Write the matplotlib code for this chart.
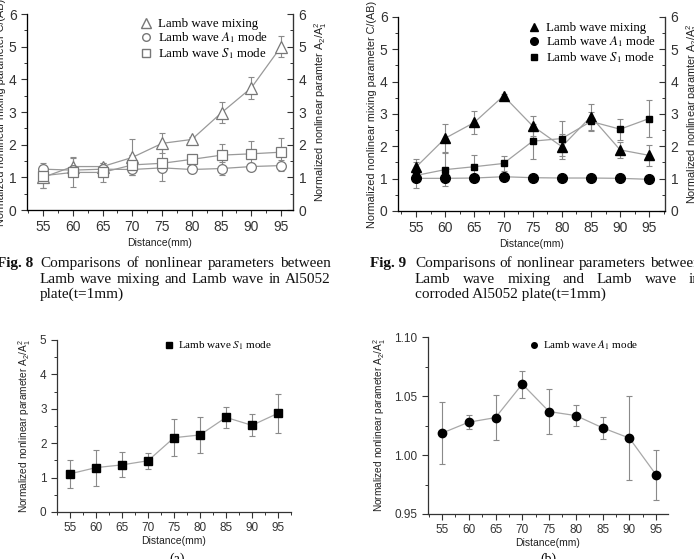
import matplotlib
matplotlib.use('Agg')
import matplotlib.pyplot as plt
from matplotlib.lines import Line2D
from matplotlib.ticker import MultipleLocator

# data
distance = [55, 60, 65, 70, 75, 80, 85, 90, 95]

# Fig. 8 (intact plate)
mix8 = [1.0, 1.33, 1.33, 1.61, 2.04, 2.16, 2.98, 3.74, 5.0]
mix8_err = [0.32, 0.25, 0.1, 0.55, 0.31, 0.06, 0.33, 0.33, 0.33]
a1_8 = [1.25, 1.22, 1.25, 1.24, 1.29, 1.24, 1.27, 1.33, 1.36]
a1_8_err = [0.05, 0.05, 0.05, 0.05, 0.1, 0.03, 0.2, 0.1, 0.18]
s1_8 = [1.05, 1.15, 1.15, 1.38, 1.43, 1.55, 1.68, 1.72, 1.77]
s1_8_err = [0.38, 0.46, 0.28, 0.3, 0.53, 0.05, 0.34, 0.4, 0.42]

# Fig. 9 (corroded plate)
mix9 = [1.36, 2.25, 2.74, 3.56, 2.63, 1.99, 2.92, 1.89, 1.72]
mix9_err = [0.25, 0.43, 0.36, 0.05, 0.3, 0.38, 0.4, 0.24, 0.33]
a1_9 = [1.01, 1.01, 1.02, 1.06, 1.03, 1.02, 1.02, 1.01, 0.98]
a1_9_err = [0.03, 0.03, 0.03, 0.03, 0.03, 0.03, 0.03, 0.03, 0.03]
s1_9 = [1.10, 1.28, 1.37, 1.47, 2.16, 2.24, 2.77, 2.53, 2.86]
s1_9_err = [0.4, 0.52, 0.36, 0.23, 0.54, 0.53, 0.3, 0.32, 0.56]

# (a) S1 mode, (b) A1 mode
s1_a = [1.11, 1.29, 1.37, 1.49, 2.16, 2.24, 2.75, 2.52, 2.87]
s1_a_err = [0.4, 0.52, 0.36, 0.23, 0.54, 0.53, 0.31, 0.32, 0.56]
a1_b = [1.0185, 1.0278, 1.0317, 1.0601, 1.0368, 1.0334, 1.023, 1.0143, 0.9831]
a1_b_err = [0.0265, 0.006, 0.019, 0.0114, 0.019, 0.0086, 0.0093, 0.0354, 0.0215]

W, H = 694, 559
plt.rcParams['font.family'] = ['Liberation Sans', 'DejaVu Sans']
plt.rcParams['mathtext.fontset'] = 'stix'

fig = plt.figure(figsize=(W / 100, H / 100), dpi=100)
fig.patch.set_facecolor('white')


def box(x0, y0, x1, y1):
    # pixel box (top-left origin) -> figure fraction rect
    return [x0 / W, 1 - y1 / H, (x1 - x0) / W, (y1 - y0) / H]


def fxy(x, y):
    return x / W, 1 - y / H


def style_axis(ax, fs, xpad):
    for s in ['left', 'bottom', 'right', 'top']:
        ax.spines[s].set_color('#333333')
        ax.spines[s].set_linewidth(0.9)
    ax.spines['top'].set_visible(False)
    ax.xaxis.set_major_locator(MultipleLocator(5))
    ax.xaxis.set_minor_locator(MultipleLocator(2.5))
    ax.tick_params(which='both', direction='out', colors='#333333', labelsize=fs,
                   top=False, right=False)
    ax.tick_params(which='major', length=4, width=0.8)
    ax.tick_params(which='minor', length=2.2, width=0.7)
    ax.set_xlabel('Distance(mm)', fontsize=7.5, color='#222222', labelpad=xpad)


legend_font = {'family': ['Liberation Serif'], 'size': 9.3}
ylab_right = 'Normalized nonlinear paramter $\\mathregular{A_2/A_1^2}$'
ylab_mix = 'Normalized nonlinear mixing parameter C/(AB)'
ylab_single = 'Normalized nonlinear parameter $\\mathregular{A_2/A_1^2}$'


def top_panel(rect, mix, mix_err, a1, a1_err, s1, s1_err, filled, leg_xy, xlim):
    ax = fig.add_axes(rect)
    if filled:
        mk = dict(mec='black', mfc='black', color='#a0a0a0', lw=0.9)
        ms = {'^': 7, 'o': 7, 's': 5}
    else:
        mk = dict(mec='#777777', mfc='white', color='#999999', lw=0.9, mew=0.9)
        ms = {'^': 8, 'o': 7, 's': 7}
    for y, e in [(mix, mix_err), (a1, a1_err), (s1, s1_err)]:
        ax.errorbar(distance, y, yerr=e, fmt='none', ecolor='#8a8a8a', elinewidth=0.8,
                    capsize=2.5, capthick=0.8)
    ax.plot(distance, mix, marker='^', ms=ms['^'], **mk)
    ax.plot(distance, a1, marker='o', ms=ms['o'], **mk)
    ax.plot(distance, s1, marker='s', ms=ms['s'], **mk)
    ax.set_xlim(*xlim)
    ax.set_ylim(0, 6)
    ax.yaxis.set_major_locator(MultipleLocator(1))
    ax.yaxis.set_minor_locator(MultipleLocator(0.5))
    style_axis(ax, 10, 2.5)
    ax.set_ylabel(ylab_mix, fontsize=7.8, color='#222222', labelpad=2)
    ax.spines['right'].set_visible(True)

    rax = ax.twinx()
    rax.set_ylim(0, 6)
    rax.yaxis.set_major_locator(MultipleLocator(1))
    rax.yaxis.set_minor_locator(MultipleLocator(0.5))
    rax.spines['top'].set_visible(False)
    rax.spines['right'].set_color('#333333')
    rax.tick_params(which='both', direction='in', colors='#333333', labelsize=10)
    rax.tick_params(which='major', length=4, width=0.8, pad=4)
    rax.tick_params(which='minor', length=2.2, width=0.7)
    rax.set_ylabel(ylab_right, fontsize=7.8, color='#222222', labelpad=4)

    hk = dict(ls='none', mec=mk['mec'], mfc=mk['mfc'])
    handles = [Line2D([], [], marker='^', ms=ms['^'] - 1, **hk),
               Line2D([], [], marker='o', ms=ms['o'] - 1.5, **hk),
               Line2D([], [], marker='s', ms=ms['s'] - 1, **hk)]
    labels = ['Lamb wave mixing', 'Lamb wave $A_1$ mode', 'Lamb wave $S_1$ mode']
    ax.legend(handles, labels, loc='upper left', bbox_to_anchor=fxy(*leg_xy),
              bbox_transform=fig.transFigure, frameon=False, prop=legend_font,
              handlelength=1.0, handletextpad=0.4, labelspacing=0.05,
              borderpad=0, borderaxespad=0)
    return ax


# Fig. 8 and Fig. 9
top_panel(box(27, 14, 293, 210), mix8, mix8_err, a1_8, a1_8_err, s1_8, s1_8_err,
          False, (140, 18), (52.3, 97.0))
top_panel(box(398, 17, 665, 211), mix9, mix9_err, a1_9, a1_9_err, s1_9, s1_9_err,
          True, (528, 22), (51.9, 97.7))

# (a) S1 mode
ax_a = fig.add_axes(box(57, 340, 291, 512))
ax_a.errorbar(distance, s1_a, yerr=s1_a_err, fmt='none', ecolor='#8a8a8a',
              elinewidth=0.8, capsize=2.5, capthick=0.8)
ax_a.plot(distance, s1_a, marker='s', ms=5.5, mec='black', mfc='black',
          color='#a8a8a8', lw=0.9)
ax_a.set_xlim(52.5, 97.5)
ax_a.set_ylim(0, 5)
ax_a.yaxis.set_major_locator(MultipleLocator(1))
ax_a.yaxis.set_minor_locator(MultipleLocator(0.5))
style_axis(ax_a, 8.5, 1.5)
ax_a.spines['right'].set_visible(False)
ax_a.set_ylabel(ylab_single, fontsize=7.3, color='#222222', labelpad=5)
ax_a.legend([Line2D([], [], ls='none', marker='s', ms=4, mec='black', mfc='black')],
            ['Lamb wave $S_1$ mode'], loc='upper left', bbox_to_anchor=fxy(165, 340),
            bbox_transform=fig.transFigure, frameon=False,
            prop={'family': ['Liberation Serif'], 'size': 8},
            handlelength=0.8, handletextpad=0.4, borderpad=0, borderaxespad=0)

# (b) A1 mode
ax_b = fig.add_axes(box(428, 337, 668, 514))
ax_b.errorbar(distance, a1_b, yerr=a1_b_err, fmt='none', ecolor='#8a8a8a',
              elinewidth=0.8, capsize=2.5, capthick=0.8)
ax_b.plot(distance, a1_b, marker='o', ms=6, mec='black', mfc='black',
          color='#a8a8a8', lw=0.9)
ax_b.set_xlim(52.4, 97.2)
ax_b.set_ylim(0.95, 1.10)
ax_b.yaxis.set_major_locator(MultipleLocator(0.05))
ax_b.yaxis.set_minor_locator(MultipleLocator(0.025))
ax_b.yaxis.set_major_formatter('{x:.2f}')
style_axis(ax_b, 8.5, 1.5)
ax_b.spines['right'].set_visible(False)
ax_b.set_ylabel(ylab_single, fontsize=7.3, color='#222222', labelpad=5)
ax_b.legend([Line2D([], [], ls='none', marker='o', ms=4, mec='black', mfc='black')],
            ['Lamb wave $A_1$ mode'], loc='upper left', bbox_to_anchor=fxy(530, 339),
            bbox_transform=fig.transFigure, frameon=False,
            prop={'family': ['Liberation Serif'], 'size': 8},
            handlelength=0.8, handletextpad=0.4, borderpad=0, borderaxespad=0)

# captions (justified lines, serif)
renderer = fig.canvas.get_renderer()
cap = dict(family=['Liberation Serif'], fontsize=11, color='#111111', va='baseline')


def justify(text, x0, x1, y):
    words = text.split()
    objs = [fig.text(*fxy(x0, y), w, **cap) for w in words]
    widths = [o.get_window_extent(renderer).width for o in objs]
    gap = (x1 - x0 - sum(widths)) / max(len(words) - 1, 1)
    x = x0
    for o, w in zip(objs, widths):
        o.set_position(fxy(x, y))
        x += w + gap


fig.text(*fxy(-3, 267), 'Fig. 8', fontweight='bold', **cap)
justify('Comparisons of nonlinear parameters between', 40, 331, 267)
justify('Lamb wave mixing and Lamb wave in Al5052', 40, 331, 283)
fig.text(*fxy(40, 298), 'plate(t=1mm)', **cap)

fig.text(*fxy(370, 267), 'Fig. 9', fontweight='bold', **cap)
justify('Comparisons of nonlinear parameters between', 415, 701, 267)
justify('Lamb wave mixing and Lamb wave in', 415, 701, 283)
fig.text(*fxy(415, 298), 'corroded Al5052 plate(t=1mm)', **cap)

fig.text(*fxy(177, 553), '(a)', ha='center', va='top',
         family=['Liberation Serif'], fontsize=10)
fig.text(*fxy(548, 553), '(b)', ha='center', va='top',
         family=['Liberation Serif'], fontsize=10)

fig.savefig('out.png', dpi=100)
